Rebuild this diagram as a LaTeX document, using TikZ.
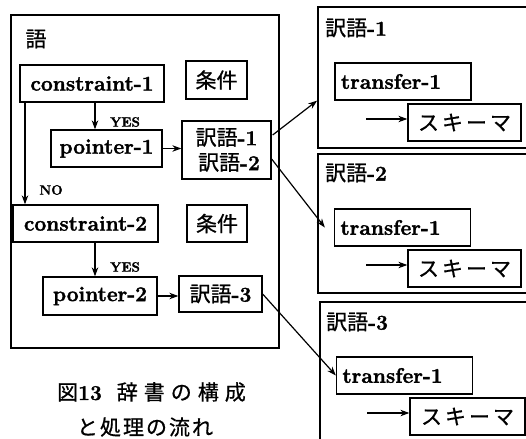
\documentclass[tikz,border=0pt]{standalone}
\usepackage{fontspec}
\setmainfont{Latin Modern Roman}[BoldFeatures={FakeBold=1.6}]
\newfontfamily\jpf[Scale=1.0, FakeBold=0.7]{Noto Sans CJK JP}
\newcommand\jp{\mdseries\jpf}
\usetikzlibrary{arrows.meta,calc}
\tikzset{
  bx/.style={draw, line width=1.3pt, inner sep=0pt, font=\fontsize{21}{25}\selectfont\bfseries},
  outerbox/.style={draw, line width=1.8pt, inner sep=0pt},
  lbl/.style={inner sep=0pt, font=\fontsize{21}{25}\selectfont\bfseries},
  small/.style={inner sep=0pt, font=\fontsize{13.5}{15}\selectfont\bfseries},
  captxt/.style={inner sep=0pt, font=\fontsize{21}{24}\selectfont\bfseries},
  arr/.style={line width=1.2pt, -{Stealth[length=9pt,width=6.5pt]}},
  tbox/.style={bx, text width=124pt, align=left, inner xsep=6pt},
}
\begin{document}
\begin{tikzpicture}[x=1pt,y=-1pt]
\useasboundingbox[fill=white] (0,0) rectangle (526,438);
% left big box
\node[outerbox, minimum width=268pt, minimum height=333pt] (word) at (145,181.5) {};
\node[lbl, anchor=center] (wlab) at (36,39) {\jp 語};
\node[bx, minimum width=144pt, minimum height=37pt] (c1) at (92,83.5) {constraint-1};
\node[bx, minimum width=61pt, minimum height=38pt] (k1) at (216.5,80) {\jp 条件};
\node[bx, minimum width=111pt, minimum height=37pt] (p1) at (106.5,148.5) {pointer-1};
\node[bx, minimum width=89pt, minimum height=58pt, align=center] (t12) at (226.5,150) {{\jp 訳語}-1\\\hspace{5pt}{\jp 訳語}-2};
\node[bx, minimum width=145pt, minimum height=37pt] (c2) at (85.5,223.5) {constraint-2};
\node[bx, minimum width=60pt, minimum height=37pt] (k2) at (217,223.5) {\jp 条件};
\node[bx, minimum width=114pt, minimum height=38pt] (p2) at (100,296) {pointer-2};
\node[bx, minimum width=83pt, minimum height=36pt] (t3) at (220.5,294) {{\jp 訳語}-3};
\node[small] (yes1) at (125,122) {YES};
\node[small] (no) at (51,190) {NO};
\node[small] (yes2) at (125,267) {YES};
\coordinate (ax) at (95,0);
\coordinate (nx) at (25,0);
\draw[arr] (c1.south -| ax) -- (p1.north -| ax);
\draw[arr] (c1.south -| nx) -- (c2.north -| nx);
\draw[arr] (c2.south -| ax) -- (p2.north -| ax);
\draw[arr] (p1.east) -- (p1.east -| t12.west);
\draw[arr] (p2.east) -- (p2.east -| t3.west);
% caption
\node[captxt] (cap1) at (151.5,392) {{\jp 図}13\hspace{15pt}{\jp 辞\hspace{6pt}書\hspace{6pt}の\hspace{6pt}構\hspace{6pt}成}};
\node[captxt] (cap2) at (145,427) {\jp と\hspace{2pt}処\hspace{2pt}理\hspace{2pt}の\hspace{2pt}流\hspace{2pt}れ};
% right boxes
\node[outerbox, minimum width=242pt, minimum height=141pt] (r1) at (439,77.5) {};
\node[outerbox, minimum width=242pt, minimum height=139pt] (r2) at (439,223.5) {};
\node[outerbox, minimum width=240pt, minimum height=160pt] (r3) at (440,382) {};
\node[lbl, anchor=west] (r1l) at (325,28) {{\jp 訳語}-1};
\node[lbl, anchor=west] (r2l) at (325,173) {{\jp 訳語}-2};
\node[lbl, anchor=west] (r3l) at (326,322) {{\jp 訳語}-3};
\node[tbox, minimum height=37pt] (tr1) at (403,81.5) {transfer-1};
\node[bx, minimum width=113pt, minimum height=37pt] (sk1) at (464.5,122.5) {\jp ス\kern3ptキ\kern3ptー\kern3ptマ};
\node[tbox, minimum height=37pt] (tr2) at (402.5,227.5) {transfer-1};
\node[bx, minimum width=113pt, minimum height=37pt] (sk2) at (464.5,268.5) {\jp ス\kern3ptキ\kern3ptー\kern3ptマ};
\node[tbox, minimum height=37pt] (tr3) at (404.5,375.5) {transfer-1};
\node[bx, minimum width=115pt, minimum height=37pt] (sk3) at (467.5,416.5) {\jp ス\kern3ptキ\kern3ptー\kern3ptマ};
\coordinate (s1) at (366,119);
\coordinate (s2) at (366,265);
\coordinate (s3) at (367,413);
\draw[arr] (s1) -- (s1 -| sk1.west);
\draw[arr] (s2) -- (s2 -| sk2.west);
\draw[arr] (s3) -- (s3 -| sk3.west);
% connectors to right boxes
\draw[arr] ($(t12.east)+(1,-15)$) -- (r1.west |- tr1.south);
\draw[arr] ($(t12.east)+(0,9)$) -- ($(tr2.west)+(-9,0)$);
\draw[arr] (t3.east) -- (tr3.west);
\end{tikzpicture}
\end{document}
